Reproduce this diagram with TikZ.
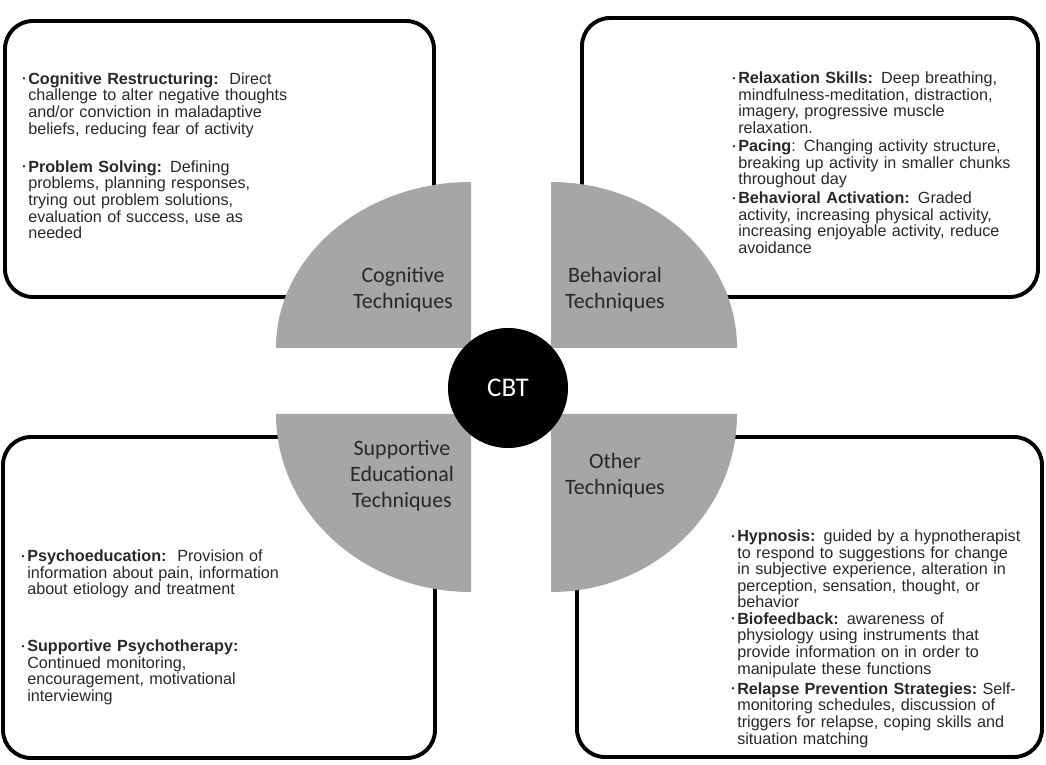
\documentclass[tikz,border=0pt]{standalone}
\usepackage{fontspec}
\setmainfont{Liberation Sans}
\newfontfamily\calfont{Carlito}
\usepackage{tikz}
\usetikzlibrary{positioning}
\definecolor{quartgray}{RGB}{166,166,166}
\definecolor{inkgray}{RGB}{40,40,40}
\newcommand{\cbtbullet}{\llap{\raisebox{0.3ex}{\fontsize{6pt}{6pt}\selectfont\textbullet}\hspace{2pt}}}

\begin{document}
\begin{tikzpicture}[
  techbox/.style={line width=2.8pt, rounded corners=0.7cm},
  quarter/.style={fill=quartgray},
  bullettext/.style={anchor=base west, inner sep=0pt, text width=7.6cm, align=left,
    text=inkgray, font=\fontsize{11.5pt}{11.8pt}\selectfont},
  techlabel/.style={align=center, text=inkgray, inner sep=0pt,
    font=\calfont\fontsize{15.6pt}{18.5pt}\selectfont}]
  \useasboundingbox (0,0) rectangle (26.15,19.1);

  \draw[techbox] (0.125,11.675) rectangle (10.85,18.575);
  \draw[techbox] (14.55,11.675) rectangle (25.95,18.65);
  \draw[techbox] (0.075,0.15) rectangle (10.875,8.175);
  \draw[techbox] (14.425,0.175) rectangle (26.05,8.175);

  \fill[quarter] (11.775,10.4) -- ++(-4.875,0) arc[start angle=180, end angle=90, x radius=4.875, y radius=4.15] -- cycle;
  \fill[quarter] (13.775,10.4) -- ++(4.65,0) arc[start angle=0, end angle=90, x radius=4.65, y radius=4.15] -- cycle;
  \fill[quarter] (11.775,8.75) -- ++(-4.875,0) arc[start angle=180, end angle=270, x radius=4.875, y radius=4.45] -- cycle;
  \fill[quarter] (13.775,8.75) -- ++(4.65,0) arc[start angle=0, end angle=-90, x radius=4.65, y radius=4.45] -- cycle;

  \node[circle, fill=black, minimum size=3cm, inner sep=0pt, text=white,
    font=\calfont\fontsize{19.2pt}{22pt}\selectfont] (cbt) at (12.7,9.4) {CBT};

  \node[techlabel] (cognitive) at (10.075,11.85) {Cognitive\\Techniques};
  \node[techlabel] (behavioral) at (15.375,11.85) {Behavioral\\Techniques};
  \node[techlabel] (supportive) at (10.05,7.2) {Supportive\\Educational\\Techniques};
  \node[techlabel] (other) at (15.375,7.21) {Other\\Techniques};

  \node[bullettext] (restructuring) at (0.7,16.99) {\cbtbullet\textbf{Cognitive Restructuring:}\ \ Direct\\
    challenge to alter negative thoughts\\ and/or conviction in maladaptive\\ beliefs, reducing fear of activity};
  \node[bullettext] (solving) at (0.7,14.79) {\cbtbullet\textbf{Problem Solving:} Defining\\
    problems, planning responses,\\ trying out problem solutions,\\ evaluation of success, use as\\ needed};

  \node[bullettext] (relaxation) at (18.45,17.01) {\cbtbullet\textbf{Relaxation Skills:} Deep breathing,\\
    mindfulness-meditation, distraction,\\ imagery, progressive muscle\\ relaxation.};
  \node[bullettext] (pacing) at (18.45,15.31) {\cbtbullet\textbf{Pacing}: Changing activity structure,\\
    breaking up activity in smaller chunks\\ throughout day};
  \node[bullettext] (activation) at (18.45,14.01) {\cbtbullet\textbf{Behavioral Activation:} Graded\\
    activity, increasing physical activity,\\ increasing enjoyable activity,\ reduce\\ avoidance};

  \node[bullettext] (psychoeducation) at (0.675,5.06) {\cbtbullet\textbf{Psychoeducation:}\ \ Provision of\\
    information about pain, information\\ about etiology and treatment};
  \node[bullettext] (psychotherapy) at (0.675,2.81) {\cbtbullet\textbf{Supportive Psychotherapy:}\\
    Continued monitoring,\\ encouragement, motivational\\ interviewing};

  \node[bullettext] (hypnosis) at (18.425,5.56) {\cbtbullet\textbf{Hypnosis:} guided by a hypnotherapist\\
    to respond to suggestions for change\\ in subjective experience,\ alteration in\\ perception, sensation, thought, or\\ behavior};
  \node[bullettext] (biofeedback) at (18.425,3.49) {\cbtbullet\textbf{Biofeedback:} awareness of\\
    physiology using instruments that\\ provide information on in order to\\ manipulate these functions};
  \node[bullettext] (relapse) at (18.425,1.74) {\cbtbullet\textbf{Relapse Prevention Strategies:}\ Self-\\
    monitoring schedules, discussion of\\ triggers for relapse, coping skills and\\ situation matching};
\end{tikzpicture}
\end{document}
